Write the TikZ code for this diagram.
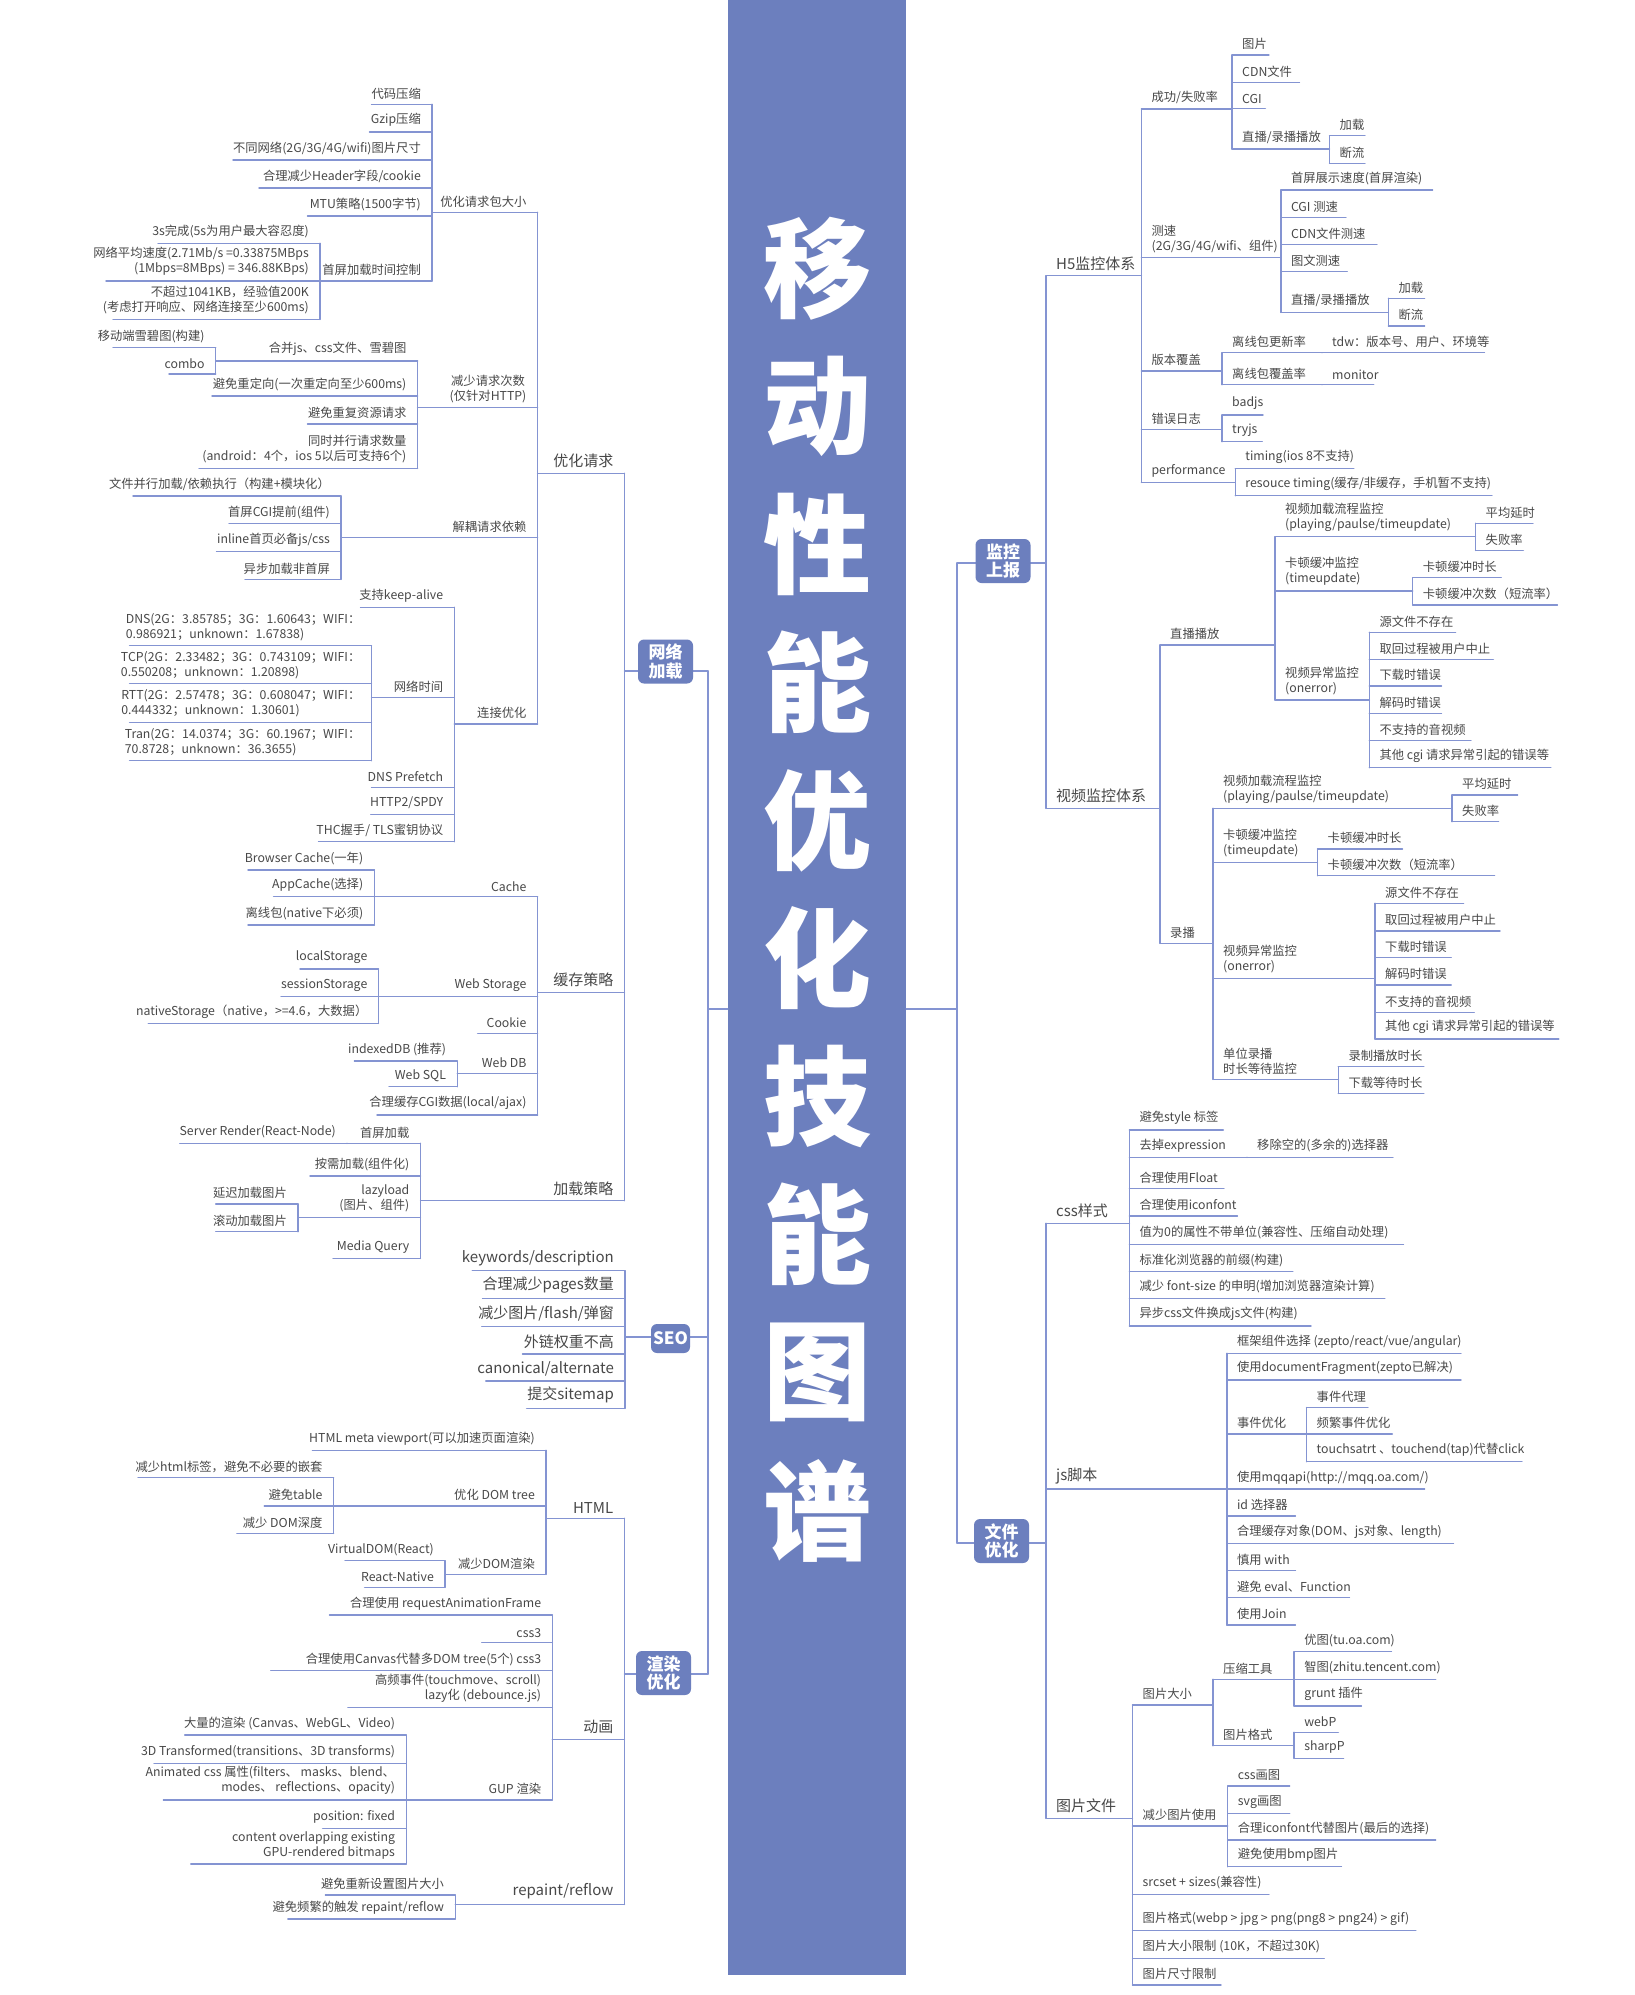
\documentclass[tikz,border=0pt]{standalone}
\usepackage{fontspec}
\newfontfamily\cjkfont{Noto Sans CJK SC}
\definecolor{mapblue}{RGB}{108,127,190}
\definecolor{linkblue}{RGB}{132,148,210}
\definecolor{txtgray}{RGB}{72,72,72}
\usetikzlibrary{calc}

% topic = text over an underline; #3/#4 underline ends, #5 its height
\newcommand{\ltopic}[6][leaftxt]{%
  \draw[uline] (#3,#5) coordinate (#2-l) -- (#4,#5) coordinate (#2-r);
  \node[anchor=south east, align=right, #1] (#2) at (#4-11,#5-5) {#6};}
\newcommand{\rtopic}[6][leaftxt]{%
  \draw[uline] (#3,#5) coordinate (#2-l) -- (#4,#5) coordinate (#2-r);
  \node[anchor=south west, align=left, #1] (#2) at (#3+10,#5-5) {#6};}

\begin{document}
\begin{tikzpicture}[x=1pt, y=-1pt,
    uline/.style={draw=linkblue, line width=1.4pt, line cap=round},
    leaftxt/.style={font=\cjkfont\fontsize{12.3}{15}\selectfont, text=txtgray, inner sep=0pt},
    bigtxt/.style={font=\cjkfont\fontsize{15}{18}\selectfont, text=txtgray, inner sep=0pt},
    mainbox/.style={fill=mapblue, rounded corners=6pt, text=white, align=center,
      font=\cjkfont\bfseries\fontsize{17}{18.5}\selectfont,
      minimum width=55pt, minimum height=44pt, inner sep=0pt},
    corebox/.style={fill=mapblue, minimum width=178pt, minimum height=1975pt, inner sep=0pt},
    titletxt/.style={font=\cjkfont\bfseries\fontsize{108}{108}\selectfont, text=white, inner sep=0pt}]
\path[use as bounding box, fill=white] (0,0) rectangle (1634,1995);

% centre column
\node[corebox] (core) at (817,987.5) {};
\foreach \ch [count=\i] in {移,动,性,能,优,化,技,能,图,谱}
  \node[titletxt] (ttl\i) at (817,130.5+138*\i) {\ch};

% level-1 anchors
\coordinate (net-l) at (624.5,671);   \coordinate (net-r) at (708,671);
\coordinate (seo-l) at (625,1337);    \coordinate (seo-r) at (708,1337);
\coordinate (rend-l) at (624.5,1674); \coordinate (rend-r) at (708,1674);
\coordinate (mon-l) at (957,563);     \coordinate (mon-r) at (1046,563);
\coordinate (file-l) at (957,1543);   \coordinate (file-r) at (1046,1543);
\coordinate (hubL) at (708,1009);     \coordinate (hubR) at (957,1009);

% ---- 网络加载
\ltopic[bigtxt]{req}{537.6}{624.5}{473.3}{优化请求}
\ltopic[bigtxt]{cache}{537.6}{624.5}{992.3}{缓存策略}
\ltopic[bigtxt]{load}{420.5}{624.5}{1200.7}{加载策略}

\ltopic{pkg}{432}{537.6}{212.3}{优化请求包大小}
\ltopic[leaftxt,align=center]{less}{417.6}{537.6}{407.7}{减少请求次数\\(仅针对HTTP)}
\ltopic{dep}{341}{537.6}{537.3}{解耦请求依赖}
\ltopic{conn}{454.3}{537.6}{724}{连接优化}

\ltopic{p1}{371.5}{432}{104.3}{代码压缩}
\ltopic{p2}{369.5}{432}{132}{Gzip压缩}
\ltopic{p3}{233}{432}{160}{不同网络(2G/3G/4G/wifi)图片尺寸}
\ltopic{p4}{259}{432}{188}{合理减少Header字段/cookie}
\ltopic{p5}{307.5}{432}{216}{MTU策略(1500字节)}
\ltopic{p6}{320}{432}{281}{首屏加载时间控制}
\ltopic{p61}{158}{320}{243.3}{3s完成(5s为用户最大容忍度)}
\ltopic{p62}{106}{320}{281}{网络平均速度(2.71Mb/s =0.33875MBps\\(1Mbps=8MBps) = 346.88KBps)}
\ltopic{p63}{113}{320}{319.3}{不超过1041KB，经验值200K\\(考虑打开响应、网络连接至少600ms)}

\ltopic{l1}{215.7}{417.6}{361}{合并js、css文件、雪碧图}
\ltopic{l2}{212}{417.6}{396}{避免重定向(一次重定向至少600ms)}
\ltopic{l3}{307.5}{417.6}{424}{避免重复资源请求}
\ltopic{l4}{199}{417.6}{468.3}{同时并行请求数量\\(android：4个，ios 5以后可支持6个)}
\ltopic{l11}{113}{215.7}{347.7}{移动端雪碧图(构建)}
\ltopic{l12}{169}{215.7}{374}{combo}

\ltopic{d1}{133}{341}{496}{文件并行加载/依赖执行（构建+模块化）}
\ltopic{d2}{229}{341}{523.7}{首屏CGI提前(组件)}
\ltopic{d3}{216.5}{341}{551.7}{inline首页必备js/css}
\ltopic{d4}{245}{341}{579.3}{异步加载非首屏}

\ltopic{c1}{360.5}{454.3}{607.3}{支持keep-alive}
\ltopic{c2}{371.5}{454.3}{697.7}{网络时间}
\ltopic{c3}{371.5}{454.3}{787.3}{DNS Prefetch}
\ltopic{c4}{370.7}{454.3}{814.3}{HTTP2/SPDY}
\ltopic{c5}{318.5}{454.3}{841.7}{THC握手/ TLS蜜钥协议}
\ltopic[leaftxt,align=left]{c21}{129.6}{371.5}{645.7}{DNS(2G：3.85785；3G：1.60643；WIFI：\\0.986921；unknown：1.67838)}
\ltopic[leaftxt,align=left]{c22}{129.6}{371.5}{683.7}{TCP(2G：2.33482；3G：0.743109；WIFI：\\0.550208；unknown：1.20898)}
\ltopic[leaftxt,align=left]{c23}{129.6}{371.5}{722.3}{RTT(2G：2.57478；3G：0.608047；WIFI：\\0.444332；unknown：1.30601)}
\ltopic[leaftxt,align=left]{c24}{129.6}{371.5}{760.7}{Tran(2G：14.0374；3G：60.1967；WIFI：\\70.8728；unknown：36.3655)}

\ltopic{k1}{374.4}{537.6}{896.7}{Cache}
\ltopic{k2}{378.5}{537.6}{996.5}{Web Storage}
\ltopic{k3}{477.6}{537.6}{1033.3}{Cookie}
\ltopic{k4}{457.2}{537.6}{1073.3}{Web DB}
\ltopic{k5}{377}{537.6}{1115}{合理缓存CGI数据(local/ajax)}
\ltopic{k11}{248}{374.4}{870}{Browser Cache(一年)}
\ltopic{k12}{273.6}{374.4}{896.7}{AppCache(选择)}
\ltopic{k13}{248}{374.4}{925}{离线包(native下必须)}
\ltopic{k21}{300}{378.5}{969}{localStorage}
\ltopic{k22}{281}{378.5}{996.5}{sessionStorage}
\ltopic{k23}{148.3}{378.5}{1023.3}{nativeStorage（native，>=4.6，大数据）}
\ltopic{k41}{354.4}{457.2}{1061}{indexedDB (推荐)}
\ltopic{k42}{389}{457.2}{1086.7}{Web SQL}

\ltopic{o1}{347}{420.5}{1143.3}{首屏加载}
\ltopic{o2}{310}{420.5}{1176}{按需加载(组件化)}
\ltopic{o3}{298}{420.5}{1217.3}{lazyload\\(图片、组件)}
\ltopic{o4}{333}{420.5}{1258.3}{Media Query}
\ltopic{o11}{179.8}{347}{1143.3}{Server Render(React-Node)}
\ltopic{o31}{215.7}{298}{1204}{延迟加载图片}
\ltopic{o32}{215.7}{298}{1231.7}{滚动加载图片}

% ---- SEO
\ltopic[bigtxt]{s1}{472.3}{625}{1270.7}{keywords/description}
\ltopic[bigtxt]{s2}{482.5}{625}{1298.3}{合理减少pages数量}
\ltopic[bigtxt]{s3}{481.7}{625}{1326.7}{减少图片/flash/弹窗}
\ltopic[bigtxt]{s4}{522.5}{625}{1354}{外链权重不高}
\ltopic[bigtxt]{s5}{485.8}{625}{1381}{canonical/alternate}
\ltopic[bigtxt]{s6}{526.6}{625}{1408.3}{提交sitemap}

% ---- 渲染优化
\ltopic[bigtxt]{html}{546}{624.5}{1518.3}{HTML}
\ltopic[bigtxt]{anim}{552.3}{624.5}{1739.3}{动画}
\ltopic[bigtxt]{rfl}{455.2}{624.5}{1904.3}{repaint/reflow}

\ltopic{h1}{312.4}{546}{1450.3}{HTML meta viewport(可以加速页面渲染)}
\ltopic{h2}{333.6}{546}{1506}{优化 DOM tree}
\ltopic{h3}{445}{546}{1574.3}{减少DOM渲染}
\ltopic{h21}{138}{333.6}{1477.7}{减少html标签，避免不必要的嵌套}
\ltopic{h22}{264.2}{333.6}{1506}{避免table}
\ltopic{h23}{236.9}{333.6}{1533.3}{减少 DOM深度}
\ltopic{h31}{345}{445}{1560.7}{VirtualDOM(React)}
\ltopic{h32}{364.6}{445}{1587.3}{React-Native}

\ltopic{a1}{329.5}{552.3}{1615}{合理使用 requestAnimationFrame}
\ltopic{a2}{481.7}{552.3}{1642.7}{css3}
\ltopic{a3}{270.7}{552.3}{1670.7}{合理使用Canvas代替多DOM tree(5个) css3}
\ltopic{a4}{347.9}{552.3}{1707.7}{高频事件(touchmove、scroll)\\lazy化 (debounce.js)}
\ltopic{a5}{406.2}{552.3}{1800}{GUP 渲染}
\ltopic{a51}{184.7}{406.2}{1735}{大量的渲染 (Canvas、WebGL、Video)}
\ltopic{a52}{154}{406.2}{1763.3}{3D Transformed(transitions、3D transforms)}
\ltopic{a53}{163.4}{406.2}{1800}{Animated css 属性(filters、 masks、blend、\\modes、 reflections、opacity)}
\ltopic{a54}{322.6}{406.2}{1828.3}{position: fixed}
\ltopic{a55}{190.8}{406.2}{1864}{content overlapping existing\\GPU-rendered bitmaps}
\ltopic{r1}{325.4}{455.2}{1895}{避免重新设置图片大小}
\ltopic{r2}{287.9}{455.2}{1919}{避免频繁的触发 repaint/reflow}

% ---- 监控上报
\rtopic[bigtxt]{hfive}{1046}{1141.4}{275.7}{H5监控体系}
\rtopic[bigtxt]{vid}{1046}{1160}{808.3}{视频监控体系}

\rtopic{m1}{1141.4}{1232}{109}{成功/失败率}
\rtopic{m2}{1141.4}{1280.8}{257.7}{测速\\(2G/3G/4G/wifi、组件)}
\rtopic{m3}{1141.4}{1222}{371}{版本覆盖}
\rtopic{m4}{1141.4}{1222}{429.3}{错误日志}
\rtopic{m5}{1141.4}{1235.2}{482.3}{performance}
\rtopic{m11}{1232}{1268.9}{55}{图片}
\rtopic{m12}{1232}{1299.4}{82.3}{CDN文件}
\rtopic{m13}{1232}{1265.3}{108.7}{CGI}
\rtopic{m14}{1232}{1329.5}{149}{直播/录播播放}
\rtopic{m141}{1329.5}{1364.9}{135.7}{加载}
\rtopic{m142}{1329.5}{1364.9}{163.3}{断流}
\rtopic{m21}{1280.8}{1432.6}{190}{首屏展示速度(首屏渲染)}
\rtopic{m22}{1280.8}{1345.9}{217.3}{CGI 测速}
\rtopic{m23}{1280.8}{1376.9}{244.3}{CDN文件测速}
\rtopic{m24}{1280.8}{1347.2}{271.7}{图文测速}
\rtopic{m25}{1280.8}{1388.4}{312.3}{直播/录播播放}
\rtopic{m251}{1388.4}{1424.6}{298.3}{加载}
\rtopic{m252}{1388.4}{1424.6}{326}{断流}
\rtopic{m31}{1222}{1322}{352.7}{离线包更新率}
\rtopic{m32}{1222}{1322}{384.7}{离线包覆盖率}
\rtopic{m311}{1322}{1484.4}{352.7}{tdw：版本号、用户、环境等}
\rtopic{m321}{1322}{1373.7}{384.7}{monitor}
\rtopic{m41}{1222}{1263}{415}{badjs}
\rtopic{m42}{1222}{1262.2}{441.7}{tryjs}
\rtopic{m51}{1235.2}{1353.8}{468.7}{timing(ios 8不支持)}
\rtopic{m52}{1235.2}{1491.9}{495.7}{resouce timing(缓存/非缓存，手机暂不支持)}

\rtopic{v1}{1160}{1275}{645}{直播播放}
\rtopic{v2}{1160}{1213}{943.3}{录播}
\rtopic{v11}{1275}{1475.5}{536.7}{视频加载流程监控\\(playing/paulse/timeupdate)}
\rtopic{v12}{1275}{1412.7}{591}{卡顿缓冲监控\\(timeupdate)}
\rtopic{v13}{1275}{1369.3}{700}{视频异常监控\\(onerror)}
\rtopic{v111}{1475.5}{1533}{523.3}{平均延时}
\rtopic{v112}{1475.5}{1523.3}{550.3}{失败率}
\rtopic{v121}{1412.7}{1501.2}{577.7}{卡顿缓冲时长}
\rtopic{v122}{1412.7}{1557.4}{605}{卡顿缓冲次数（短流率）}
\rtopic{v131}{1369.3}{1455.6}{632.3}{源文件不存在}
\rtopic{v132}{1369.3}{1493.3}{659.3}{取回过程被用户中止}
\rtopic{v133}{1369.3}{1441.5}{686}{下载时错误}
\rtopic{v134}{1369.3}{1441.5}{713.3}{解码时错误}
\rtopic{v135}{1369.3}{1471}{740.7}{不支持的音视频}
\rtopic{v136}{1369.3}{1550.8}{767.7}{其他 cgi 请求异常引起的错误等}
\rtopic{v21}{1213}{1452}{808.3}{视频加载流程监控\\(playing/paulse/timeupdate)}
\rtopic{v22}{1213}{1317.5}{862.7}{卡顿缓冲监控\\(timeupdate)}
\rtopic{v23}{1213}{1375}{978.3}{视频异常监控\\(onerror)}
\rtopic{v24}{1213}{1338.3}{1079.3}{单位录播\\时长等待监控}
\rtopic{v211}{1452}{1517.6}{795}{平均延时}
\rtopic{v212}{1452}{1498.6}{821.7}{失败率}
\rtopic{v221}{1317.5}{1402.5}{849}{卡顿缓冲时长}
\rtopic{v222}{1317.5}{1494.6}{875.7}{卡顿缓冲次数（短流率）}
\rtopic{v231}{1375}{1463.6}{903.3}{源文件不存在}
\rtopic{v232}{1375}{1500}{931}{取回过程被用户中止}
\rtopic{v233}{1375}{1451.2}{957.7}{下载时错误}
\rtopic{v234}{1375}{1451.2}{985}{解码时错误}
\rtopic{v235}{1375}{1474.2}{1012.3}{不支持的音视频}
\rtopic{v236}{1375}{1558.8}{1039}{其他 cgi 请求异常引起的错误等}
\rtopic{v241}{1338.3}{1423.8}{1066.7}{录制播放时长}
\rtopic{v242}{1338.3}{1423.8}{1093.3}{下载等待时长}

% ---- 文件优化
\rtopic[bigtxt]{css}{1046}{1129.4}{1223.3}{css样式}
\rtopic[bigtxt]{js}{1046}{1226.8}{1489}{js脚本}
\rtopic[bigtxt]{img}{1046}{1132.5}{1818.3}{图片文件}

\rtopic{e1}{1129.4}{1223.3}{1130}{避免style 标签}
\rtopic{e2}{1129.4}{1247}{1157.3}{去掉expression}
\rtopic{e21}{1247}{1393}{1157.3}{移除空的(多余的)选择器}
\rtopic{e3}{1129.4}{1224}{1188.3}{合理使用Float}
\rtopic{e4}{1129.4}{1237.4}{1216}{合理使用iconfont}
\rtopic{e5}{1129.4}{1403.4}{1244.3}{值为0的属性不带单位(兼容性、压缩自动处理)}
\rtopic{e6}{1129.4}{1292.8}{1271.7}{标准化浏览器的前缀(构建)}
\rtopic{e7}{1129.4}{1384.8}{1298.3}{减少 font-size 的申明(增加浏览器渲染计算)}
\rtopic{e8}{1129.4}{1311}{1326}{异步css文件换成js文件(构建)}

\rtopic{j1}{1226.8}{1461}{1353.3}{框架组件选择 (zepto/react/vue/angular)}
\rtopic{j2}{1226.8}{1461}{1380}{使用documentFragment(zepto已解决)}
\rtopic{j3}{1226.8}{1306.5}{1434}{事件优化}
\rtopic{j4}{1226.8}{1424.6}{1489}{使用mqqapi(http://mqq.oa.com/)}
\rtopic{j5}{1226.8}{1295.4}{1516}{id 选择器}
\rtopic{j6}{1226.8}{1453.4}{1543.3}{合理缓存对象(DOM、js对象、length)}
\rtopic{j7}{1226.8}{1295.4}{1570.7}{慎用 with}
\rtopic{j8}{1226.8}{1349.4}{1597.7}{避免 eval、Function}
\rtopic{j9}{1226.8}{1295.4}{1625}{使用Join}
\rtopic{j31}{1306.5}{1368}{1407.5}{事件代理}
\rtopic{j32}{1306.5}{1392.3}{1434}{频繁事件优化}
\rtopic{j33}{1306.5}{1522}{1461.7}{touchsatrt 、touchend(tap)代替click}

\rtopic{g1}{1132.5}{1213}{1705}{图片大小}
\rtopic{g2}{1132.5}{1227.7}{1826}{减少图片使用}
\rtopic{g3}{1132.5}{1268.9}{1894.3}{srcset + sizes(兼容性)}
\rtopic{g4}{1132.5}{1415.8}{1930.7}{图片格式(webp > jpg > png(png8 > png24) > gif)}
\rtopic{g5}{1132.5}{1324.2}{1958.3}{图片大小限制 (10K，不超过30K)}
\rtopic{g6}{1132.5}{1221}{1985}{图片尺寸限制}
\rtopic{g11}{1213}{1294.1}{1679.3}{压缩工具}
\rtopic{g12}{1213}{1294.1}{1745.7}{图片格式}
\rtopic{g111}{1294.1}{1391.4}{1651.7}{优图(tu.oa.com)}
\rtopic{g112}{1294.1}{1435.7}{1679.3}{智图(zhitu.tencent.com)}
\rtopic{g113}{1294.1}{1361.4}{1706}{grunt 插件}
\rtopic{g121}{1294.1}{1338.3}{1732.3}{webP}
\rtopic{g122}{1294.1}{1343.6}{1758.3}{sharpP}
\rtopic{g21}{1227.7}{1289.7}{1786}{css画图}
\rtopic{g22}{1227.7}{1289.7}{1813.3}{svg画图}
\rtopic{g23}{1227.7}{1435.7}{1840}{合理iconfont代替图片(最后的选择)}
\rtopic{g24}{1227.7}{1341.4}{1866.7}{避免使用bmp图片}

% connectors, left half
\foreach \c/\p in {req/net,cache/net,load/net,pkg/req,less/req,dep/req,conn/req,
    p1/pkg,p2/pkg,p3/pkg,p4/pkg,p5/pkg,p6/pkg,p61/p6,p62/p6,p63/p6,
    l1/less,l2/less,l3/less,l4/less,l11/l1,l12/l1,d1/dep,d2/dep,d3/dep,d4/dep,
    c1/conn,c2/conn,c3/conn,c4/conn,c5/conn,c21/c2,c22/c2,c23/c2,c24/c2,
    k1/cache,k2/cache,k3/cache,k4/cache,k5/cache,k11/k1,k12/k1,k13/k1,
    k21/k2,k22/k2,k23/k2,k41/k4,k42/k4,
    o1/load,o2/load,o3/load,o4/load,o11/o1,o31/o3,o32/o3,
    s1/seo,s2/seo,s3/seo,s4/seo,s5/seo,s6/seo,
    html/rend,anim/rend,rfl/rend,h1/html,h2/html,h3/html,h21/h2,h22/h2,h23/h2,h31/h3,h32/h3,
    a1/anim,a2/anim,a3/anim,a4/anim,a5/anim,a51/a5,a52/a5,a53/a5,a54/a5,a55/a5,
    r1/rfl,r2/rfl}
  \draw[uline] (\c-r) -- (\p-l);

% connectors, right half
\foreach \c/\p in {hfive/mon,vid/mon,css/file,js/file,img/file,
    m1/hfive,m2/hfive,m3/hfive,m4/hfive,m5/hfive,m11/m1,m12/m1,m13/m1,m14/m1,m141/m14,m142/m14,
    m21/m2,m22/m2,m23/m2,m24/m2,m25/m2,m251/m25,m252/m25,m31/m3,m32/m3,m311/m31,m321/m32,
    m41/m4,m42/m4,m51/m5,m52/m5,
    v1/vid,v2/vid,v11/v1,v12/v1,v13/v1,v111/v11,v112/v11,v121/v12,v122/v12,
    v131/v13,v132/v13,v133/v13,v134/v13,v135/v13,v136/v13,
    v21/v2,v22/v2,v23/v2,v24/v2,v211/v21,v212/v21,v221/v22,v222/v22,
    v231/v23,v232/v23,v233/v23,v234/v23,v235/v23,v236/v23,v241/v24,v242/v24,
    e1/css,e2/css,e3/css,e4/css,e5/css,e6/css,e7/css,e8/css,e21/e2,
    j1/js,j2/js,j3/js,j4/js,j5/js,j6/js,j7/js,j8/js,j9/js,j31/j3,j32/j3,j33/j3,
    g1/img,g2/img,g3/img,g4/img,g5/img,g6/img,g11/g1,g12/g1,
    g111/g11,g112/g11,g113/g11,g121/g12,g122/g12,g21/g2,g22/g2,g23/g2,g24/g2}
  \draw[uline] (\c-l) -- (\p-r);

% main branches
\draw[uline] (net-l) -- (net-r);
\draw[uline] (seo-l) -- (seo-r);
\draw[uline] (rend-l) -- (rend-r);
\draw[uline] (mon-l) -- (mon-r);
\draw[uline] (file-l) -- (file-r);
\draw[uline] (net-r) -- (hubL);
\draw[uline] (seo-r) -- (hubL);
\draw[uline] (rend-r) -- (hubL);
\draw[uline] (mon-l) -- (hubR);
\draw[uline] (file-l) -- (hubR);
\draw[uline] (hubL) -- (hubL -| core.west);
\draw[uline] (hubR) -- (hubR -| core.east);

\node[mainbox] (net) at (665.5,661.5) {网络\\加载};
\node[mainbox, minimum width=39pt, minimum height=29pt] (seo) at (670.5,1338.5) {SEO};
\node[mainbox] (rend) at (663.5,1673) {渲染\\优化};
\node[mainbox] (mon) at (1003,561) {监控\\上报};
\node[mainbox] (file) at (1001.5,1541) {文件\\优化};
\end{tikzpicture}
\end{document}
